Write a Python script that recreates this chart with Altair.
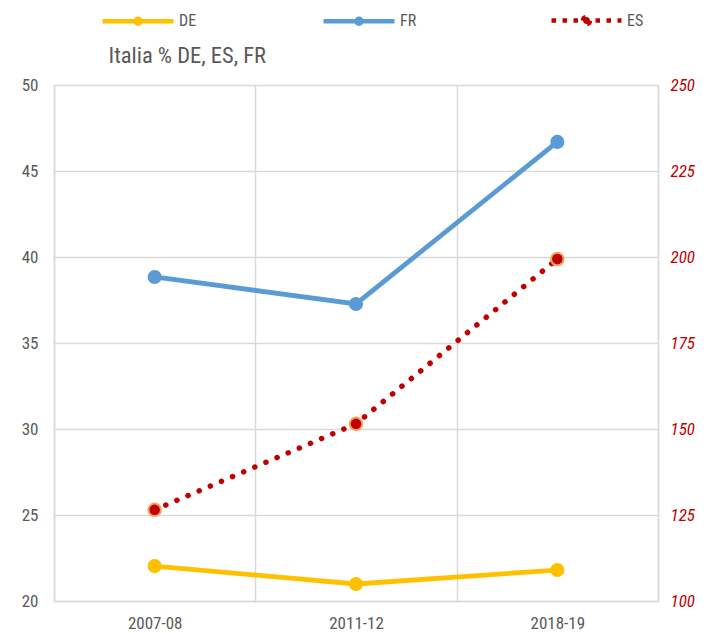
import altair as alt
import pandas as pd

periods = ["2007-08", "2011-12", "2018-19"]
de_values = [22.03, 20.99, 21.8]
fr_values = [38.84, 37.27, 46.69]
es_values = [126.5, 151.5, 199.4]
left_series = ["DE", "FR"]
left_colors = ["#ffc000", "#5b9bd5"]
es_series = ["ES"]
es_color = "#c00000"
es_ring = "#f6a25e"
left_ticks = [20, 25, 30, 35, 40, 45, 50]
right_ticks = [100, 125, 150, 175, 200, 225, 250]
title_text = "Italia % DE, ES, FR"

FONT = "Liberation Sans Narrow, Arial Narrow, Roboto Condensed, Liberation Sans, sans-serif"
GRAY = "#d9d9d9"
TXT = "#595959"

left_df = pd.DataFrame({
    "period": periods * 2,
    "series": ["DE"] * 3 + ["FR"] * 3,
    "value": de_values + fr_values,
})
es_df = pd.DataFrame({"period": periods, "series": es_series * 3, "value": es_values})

LEG_PATH = "M-1,0L1,0M-0.07,0A0.07,0.07 0 1,1 0.07,0A0.07,0.07 0 1,1 -0.07,0Z"
ES_PATH = "M-1,0L1,0M-0.1,0A0.1,0.1 0 1,1 0.1,0A0.1,0.1 0 1,1 -0.1,0Z"

x_enc = alt.X(
    "period:N", sort=periods, title=None,
    scale=alt.Scale(type="band", paddingInner=0, paddingOuter=0),
    axis=alt.Axis(labelAngle=0, tickBand="extent", grid=True, gridColor=GRAY, gridWidth=1.5,
                  domainColor=GRAY, domainWidth=1.5, ticks=False, labelPadding=14,
                  labelFont=FONT, labelFontSize=17, labelColor=TXT),
)

left_scale = alt.Scale(domain=left_series, range=left_colors)
left_legend = alt.Legend(
    title=None, orient="none", legendX=46, legendY=-102, direction="horizontal",
    symbolType=LEG_PATH, symbolSize=5041, symbolStrokeWidth=4.5,
    labelFont=FONT, labelFontSize=16, labelColor=TXT, labelOffset=3,
    columnPadding=117, padding=0,
)

y_left = alt.Y(
    "value:Q", scale=alt.Scale(domain=[20, 50], nice=False, zero=False),
    axis=alt.Axis(values=left_ticks, title=title_text, titleAngle=0, titleX=54, titleY=-23,
                  titleAlign="left", titleBaseline="alphabetic", titleFont=FONT,
                  titleFontSize=22.5, titleFontWeight="normal", titleColor=TXT,
                  ticks=False, domainColor=GRAY, domainWidth=1.5, gridColor=GRAY, gridWidth=1.5,
                  labelPadding=16, labelFont=FONT, labelFontSize=17, labelColor=TXT),
)

left_line = alt.Chart(left_df).mark_line(strokeWidth=4.8, strokeCap="round").encode(
    x=x_enc, y=y_left,
    stroke=alt.Stroke("series:N", scale=left_scale, legend=left_legend),
)
left_pts = alt.Chart(left_df).mark_point(filled=True, size=200, opacity=1).encode(
    x=x_enc, y=y_left,
    fill=alt.Fill("series:N", scale=left_scale, legend=left_legend),
)
left = alt.layer(left_line, left_pts)

es_scale = alt.Scale(domain=es_series, range=[es_color])
es_legend = alt.Legend(
    title=None, orient="none", legendX=495, legendY=-102, direction="horizontal",
    symbolType=ES_PATH, symbolSize=4900, symbolStrokeWidth=4.5, symbolDash=[4.5, 6.5],
    symbolStrokeColor=es_color,
    labelFont=FONT, labelFontSize=16, labelColor=TXT, labelOffset=3, padding=0,
)
y_right = alt.Y(
    "value:Q", scale=alt.Scale(domain=[100, 250], nice=False, zero=False),
    axis=alt.Axis(values=right_ticks, orient="right", title=None, grid=False, ticks=False,
                  domainColor=GRAY, domainWidth=1.5, labelPadding=12,
                  labelFont=FONT, labelFontSize=17, labelColor=es_color, labelFontStyle="italic"),
)
es_line = alt.Chart(es_df).mark_line(strokeWidth=5.5, strokeDash=[0.1, 12], strokeCap="round").encode(
    x=x_enc, y=y_right,
    stroke=alt.Stroke("series:N", scale=es_scale, legend=es_legend),
)
es_ring_pts = alt.Chart(es_df).mark_point(filled=True, size=210, opacity=1, color=es_ring).encode(
    x=x_enc, y=y_right,
)
es_pts = alt.Chart(es_df).mark_point(filled=True, size=110, opacity=1).encode(
    x=x_enc, y=y_right,
    fill=alt.Fill("series:N", scale=es_scale, legend=es_legend),
)
right = alt.layer(es_line, es_ring_pts, es_pts)

chart = alt.layer(left, right).resolve_scale(
    y="independent", stroke="independent", fill="independent"
).resolve_legend(stroke="independent", fill="independent").properties(
    width=604, height=516,
    autosize=alt.AutoSizeParams(type="none"),
    padding={"left": 46, "top": 77, "right": 40, "bottom": 32},
).configure_view(stroke=None)

chart.save("out.html", embed_options={"renderer": "svg", "actions": False})
